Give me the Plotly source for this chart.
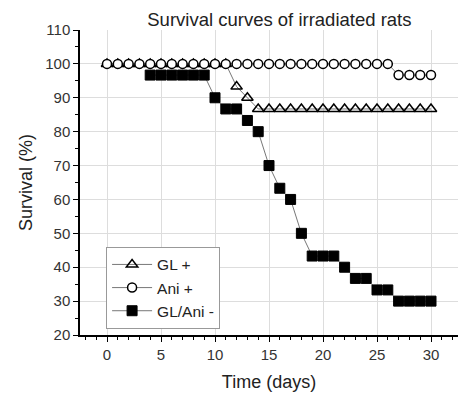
import plotly.graph_objects as go

# GL + (triangles)
gl_days = list(range(0, 31))
gl_vals = [100]*12 + [93.3, 90.0] + [86.7]*17

# Ani + (circles)
ani_days = list(range(0, 31))
ani_vals = [100]*27 + [96.7]*4

# GL/Ani - (squares)
glani_days = list(range(4, 31))
glani_vals = [96.7]*6 + [90.0, 86.7, 86.7, 83.3, 80.0, 70.0, 63.3, 60.0, 50.0,
              43.3, 43.3, 43.3, 40.0, 36.7, 36.7, 33.3, 33.3, 30.0, 30.0, 30.0, 30.0]

x_ticks = [0, 5, 10, 15, 20, 25, 30]
y_ticks = [20, 30, 40, 50, 60, 70, 80, 90, 100, 110]

line_style = dict(color="#777777", width=1)

fig = go.Figure()
fig.add_trace(go.Scatter(
    x=glani_days, y=glani_vals, name="GL/Ani -", mode="lines+markers",
    line=line_style, legendrank=3,
    marker=dict(symbol="square", size=10, color="black", line=dict(color="black", width=1)),
))
fig.add_trace(go.Scatter(
    x=gl_days, y=gl_vals, name="GL +", mode="lines+markers",
    line=line_style, legendrank=1,
    marker=dict(symbol="triangle-up-open", size=10, color="black", line=dict(width=1.5)),
))
fig.add_trace(go.Scatter(
    x=ani_days, y=ani_vals, name="Ani +", mode="lines+markers",
    line=line_style, legendrank=2,
    marker=dict(symbol="circle", size=9, color="white", line=dict(color="black", width=1.5)),
))

fig.update_layout(
    width=458, height=396,
    margin=dict(l=80, r=0, t=30, b=61, autoexpand=False),
    paper_bgcolor="white", plot_bgcolor="white",
    font=dict(family="Liberation Sans, Arial, sans-serif", color="#222222"),
    title=dict(text="Survival curves of irradiated rats", x=0.61, xanchor="center",
               y=0.95, yanchor="middle", font=dict(size=18.5, color="#222222")),
    legend=dict(
        x=0.069, y=0.289, xanchor="left", yanchor="top",
        bordercolor="#999999", borderwidth=1, bgcolor="white",
        font=dict(size=15.5, color="#222222"),
        traceorder="normal",
        tracegroupgap=0,
        itemwidth=40,
    ),
    showlegend=True,
)
fig.update_xaxes(
    range=[-2.5, 32.5], tickvals=x_ticks, ticktext=[str(v) for v in x_ticks],
    showgrid=True, gridcolor="#dddddd", gridwidth=1,
    showline=True, linecolor="black", linewidth=1.5,
    ticks="outside", ticklen=5, tickcolor="black",
    minor=dict(dtick=1, ticks="outside", ticklen=3, tickcolor="black", showgrid=False),
    tickfont=dict(size=15, color="#333333"),
    title=dict(text="Time (days)", font=dict(size=18, color="#222222"), standoff=14),
    zeroline=False, automargin=False,
)
fig.update_yaxes(
    range=[20, 110], tickvals=y_ticks, ticktext=[str(v) for v in y_ticks],
    showgrid=True, gridcolor="#dddddd", gridwidth=1,
    showline=True, linecolor="black", linewidth=1.5,
    ticks="outside", ticklen=5, tickcolor="black",
    minor=dict(dtick=5, ticks="outside", ticklen=3, tickcolor="black", showgrid=False),
    tickfont=dict(size=15, color="#333333"),
    title=dict(text="Survival (%)", font=dict(size=18, color="#222222"), standoff=8),
    zeroline=False, automargin=False,
)

fig.write_html("out.html", config={"displayModeBar": False},
               post_script="document.body.style.margin='0';")
